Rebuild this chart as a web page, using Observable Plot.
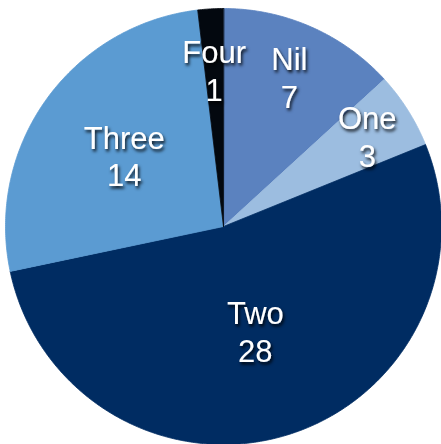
<!DOCTYPE html>
<html><head><meta charset="utf-8">
<script src="https://cdn.jsdelivr.net/npm/d3@7"></script>
<script src="https://cdn.jsdelivr.net/npm/@observablehq/plot@0.6"></script>
<style>body{margin:0;background:#fff;overflow:hidden}</style>
</head><body><div id="chart"></div>
<script>
// Data
const categories = ["Nil", "One", "Two", "Three", "Four"];
const values = [7, 3, 28, 14, 1];
// Styles / layout
const colors = ["#5b82bf", "#9cbde0", "#002c62", "#5b9bd2", "#03080f"];
const labelRadius = [0.75, 0.78, 0.5, 0.56, 0.72];

const W = 441, H = 444, cx = 223, cy = 226, R = 218;

const arcs = d3.pie().sort(null).value(d => d.value)(
  categories.map((c, i) => ({category: c, value: values[i], i}))
);

const pts = [];
arcs.forEach(s => {
  const cat = s.data.category;
  pts.push({cat, x: 0, y: 0});
  const n = Math.max(2, Math.ceil((s.endAngle - s.startAngle) / (Math.PI / 360)));
  for (let k = 0; k <= n; k++) {
    const a = s.startAngle + (s.endAngle - s.startAngle) * k / n;
    pts.push({cat, x: Math.sin(a), y: Math.cos(a)});
  }
});

const labels = arcs.map(s => {
  const a = (s.startAngle + s.endAngle) / 2;
  const r = labelRadius[s.data.i];
  return {x: r * Math.sin(a), y: r * Math.cos(a), text: s.data.category + "\n" + s.data.value};
});

const svg = Plot.plot({
  width: W, height: H,
  margin: 0,
  x: {domain: [-cx / R, (W - cx) / R], axis: null},
  y: {domain: [-(H - cy) / R, cy / R], axis: null},
  color: {domain: categories, range: colors},
  style: {background: "white"},
  marks: [
    Plot.line(pts, {x: "x", y: "y", z: "cat", fill: "cat", stroke: "cat", strokeWidth: 0.8, curve: "linear-closed"}),
    Plot.text(labels, {x: "x", y: "y", text: "text", fill: "white", fontSize: 31, lineHeight: 1.22,
      fontFamily: "Liberation Sans, Helvetica, Arial, sans-serif"})
  ]
});

const defs = d3.select(svg).insert("defs", ":first-child");
defs.append("filter").attr("id", "ts").attr("x", "-30%").attr("y", "-30%").attr("width", "160%").attr("height", "160%")
  .append("feDropShadow").attr("dx", 1.5).attr("dy", 2.5).attr("stdDeviation", 1.5)
  .attr("flood-color", "#000").attr("flood-opacity", 0.85);
d3.select(svg).selectAll('g[aria-label="text"]').attr("filter", "url(#ts)");

document.getElementById("chart").appendChild(svg);
</script>
</body></html>
